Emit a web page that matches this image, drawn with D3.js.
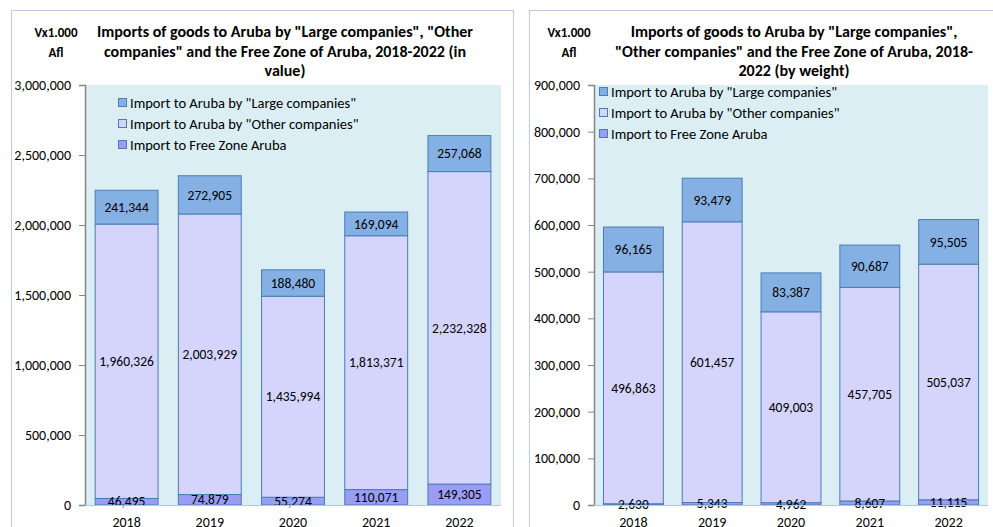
<!DOCTYPE html>
<html>
<head>
<meta charset="utf-8">
<script src="https://cdn.jsdelivr.net/npm/d3@7"></script>
<style>
  body { margin: 0; background: #fff; }
  svg text { font-family: Carlito, Calibri, Lato, sans-serif; fill: #000; }
</style>
</head>
<body>
<script>
// data
var years = ["2018", "2019", "2020", "2021", "2022"];
var seriesNames = ["Import to Aruba by \"Large companies\"", "Import to Aruba by \"Other companies\"", "Import to Free Zone Aruba"];

var valueFreeZone = [46495, 74879, 55274, 110071, 149305];
var valueOther = [1960326, 2003929, 1435994, 1813371, 2232328];
var valueLarge = [241344, 272905, 188480, 169094, 257068];

var weightFreeZone = [2630, 5343, 4962, 8607, 11115];
var weightOther = [496863, 601457, 409003, 457705, 505037];
var weightLarge = [96165, 93479, 83387, 90687, 95505];

var valueTicks = [0, 500000, 1000000, 1500000, 2000000, 2500000, 3000000];
var weightTicks = [0, 100000, 200000, 300000, 400000, 500000, 600000, 700000, 800000, 900000];

var colors = {
  large: "#85b0e3",
  other: "#d4d4fd",
  free: "#9a9cf6"
};

var width = 993;
var height = 527;

var svg = d3.select("body").append("svg")
  .attr("width", width)
  .attr("height", height);

var fmt = d3.format(",");

function drawChart(opt) {
  var g = svg.append("g");

  // panel border
  g.append("rect")
    .attr("x", opt.panel.x + 0.5)
    .attr("y", 10.5)
    .attr("width", opt.panel.w)
    .attr("height", 540)
    .attr("fill", "#fff")
    .attr("stroke", "#b9cde5");

  var x = d3.scaleBand()
    .domain(years)
    .range([opt.plot.x0, opt.plot.x1])
    .paddingInner(opt.pad)
    .paddingOuter(opt.pad / 2);

  var y = d3.scaleLinear()
    .domain([0, opt.max])
    .range([505, 85]);

  g.append("rect")
    .attr("x", opt.plot.x0)
    .attr("y", 85)
    .attr("width", opt.plot.x1 - opt.plot.x0)
    .attr("height", 420)
    .attr("fill", "#daeef3");

  var rows = years.map(function(yr, i) {
    return { year: yr, free: opt.free[i], other: opt.other[i], large: opt.large[i] };
  });
  var stack = d3.stack().keys(["free", "other", "large"])(rows);

  stack.forEach(function(layer) {
    var key = layer.key;
    g.selectAll(null)
      .data(layer)
      .enter()
      .append("rect")
      .attr("x", function(d) { return x(d.data.year); })
      .attr("y", function(d) { return y(d[1]); })
      .attr("width", x.bandwidth())
      .attr("height", function(d) { return y(d[0]) - y(d[1]); })
      .attr("fill", colors[key])
      .attr("stroke", "#4a7db5")
      .attr("stroke-width", 1);
  });

  stack.forEach(function(layer) {
    g.selectAll(null)
      .data(layer)
      .enter()
      .append("text")
      .attr("x", function(d) { return x(d.data.year) + x.bandwidth() / 2; })
      .attr("y", function(d) { return (y(d[0]) + y(d[1])) / 2; })
      .attr("dy", "0.35em")
      .attr("text-anchor", "middle")
      .attr("font-size", "13.5px")
      .text(function(d) { return fmt(d[1] - d[0]); });
  });

  // y axis
  var yAxis = g.append("g")
    .attr("transform", "translate(" + opt.plot.x0 + ",0)")
    .call(d3.axisLeft(y).tickValues(opt.ticks).tickFormat(fmt).tickSize(6).tickPadding(8));
  yAxis.select(".domain").attr("stroke", "#868686").attr("stroke-width", 1.5);
  yAxis.selectAll(".tick line").attr("stroke", "#868686");
  yAxis.selectAll(".tick text").attr("font-size", "14px").attr("fill", "#000");

  // baseline
  g.append("line")
    .attr("x1", opt.plot.x0)
    .attr("x2", opt.plot.x1)
    .attr("y1", 505.5)
    .attr("y2", 505.5)
    .attr("stroke", "#b0c8e0");

  // x labels
  g.selectAll(null)
    .data(years)
    .enter()
    .append("text")
    .attr("x", function(d) { return x(d) + x.bandwidth() / 2; })
    .attr("y", 527)
    .attr("text-anchor", "middle")
    .attr("font-size", "14px")
    .text(function(d) { return d; });

  // unit label
  g.selectAll(null)
    .data(["Vx1.000", "Afl"])
    .enter()
    .append("text")
    .attr("x", opt.unitX)
    .attr("y", function(d, i) { return 37 + i * 20; })
    .attr("text-anchor", "middle")
    .attr("font-size", "13px")
    .attr("font-weight", "bold")
    .text(function(d) { return d; });

  // title
  g.selectAll(null)
    .data(opt.title)
    .enter()
    .append("text")
    .attr("x", opt.titleX)
    .attr("y", function(d, i) { return 37 + i * 19.5; })
    .attr("text-anchor", "middle")
    .attr("font-size", "16px")
    .attr("font-weight", "bold")
    .text(function(d) { return d; });

  // legend
  var legendKeys = ["large", "other", "free"];
  var leg = g.selectAll(null)
    .data(legendKeys)
    .enter()
    .append("g")
    .attr("transform", function(d, i) {
      return "translate(" + opt.legend.x + "," + (opt.legend.y + i * 21) + ")";
    });
  leg.append("rect")
    .attr("x", 0.5)
    .attr("y", -4.5)
    .attr("width", 8)
    .attr("height", 8)
    .attr("fill", function(d) { return colors[d]; })
    .attr("stroke", "#4a7db5");
  leg.append("text")
    .attr("x", 12)
    .attr("dy", "0.35em")
    .attr("font-size", "14.5px")
    .text(function(d, i) { return seriesNames[i]; });
}

drawChart({
  panel: { x: 11, w: 502 },
  plot: { x0: 85, x1: 501 },
  pad: 0.244,
  max: 3000000,
  ticks: valueTicks,
  free: valueFreeZone,
  other: valueOther,
  large: valueLarge,
  unitX: 56,
  titleX: 285,
  title: ["Imports of goods to Aruba by \"Large companies\", \"Other",
          "companies\" and the Free Zone of Aruba, 2018-2022 (in",
          "value)"],
  legend: { x: 118, y: 103 }
});

drawChart({
  panel: { x: 529, w: 470 },
  plot: { x0: 594, x1: 988 },
  pad: 0.24,
  max: 900000,
  ticks: weightTicks,
  free: weightFreeZone,
  other: weightOther,
  large: weightLarge,
  unitX: 569,
  titleX: 794,
  title: ["Imports of goods to Aruba by \"Large companies\",",
          "\"Other companies\" and the Free Zone of Aruba, 2018-",
          "2022 (by weight)"],
  legend: { x: 599, y: 92 }
});
</script>
</body>
</html>
